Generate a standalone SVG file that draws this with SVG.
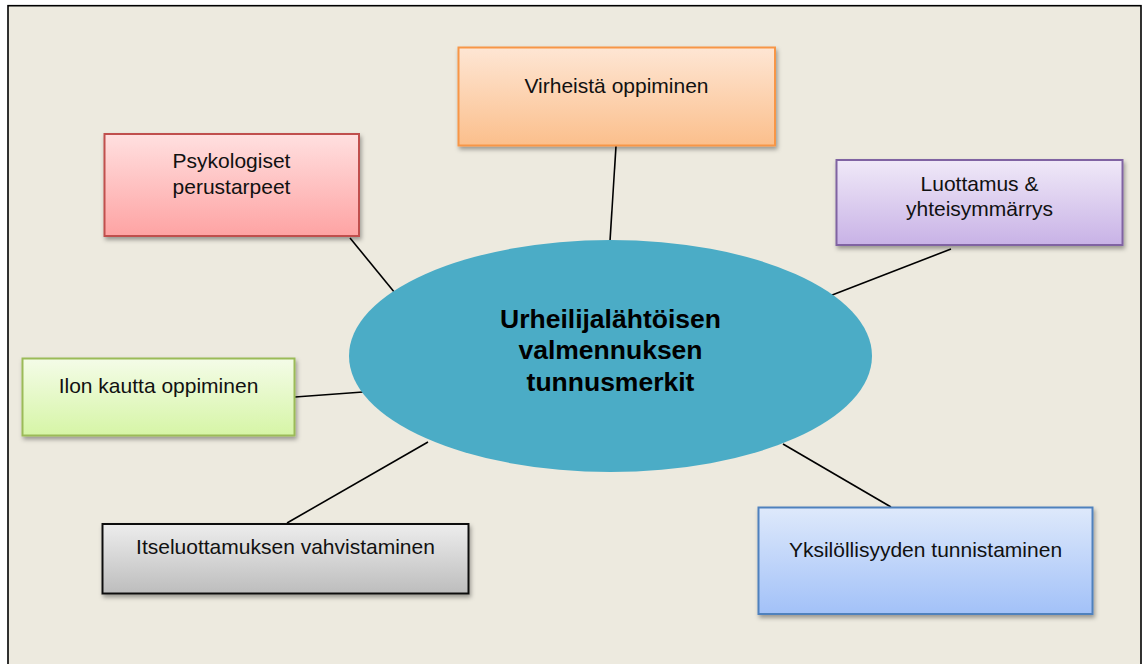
<svg xmlns="http://www.w3.org/2000/svg" width="1143" height="664" viewBox="0 0 1143 664">
  <defs>
    <linearGradient id="gOrange" x1="0" y1="0" x2="0" y2="1">
      <stop offset="0" stop-color="#FEE6D4"/>
      <stop offset="1" stop-color="#FBBF8C"/>
    </linearGradient>
    <linearGradient id="gRed" x1="0" y1="0" x2="0" y2="1">
      <stop offset="0" stop-color="#FFE0E0"/>
      <stop offset="1" stop-color="#FEA3A3"/>
    </linearGradient>
    <linearGradient id="gPurple" x1="0" y1="0" x2="0" y2="1">
      <stop offset="0" stop-color="#F0E9F8"/>
      <stop offset="1" stop-color="#C8B2E6"/>
    </linearGradient>
    <linearGradient id="gGreen" x1="0" y1="0" x2="0" y2="1">
      <stop offset="0" stop-color="#F4FCE8"/>
      <stop offset="1" stop-color="#D6F5A6"/>
    </linearGradient>
    <linearGradient id="gGray" x1="0" y1="0" x2="0" y2="1">
      <stop offset="0" stop-color="#EDEDED"/>
      <stop offset="1" stop-color="#BDBDBD"/>
    </linearGradient>
    <linearGradient id="gBlue" x1="0" y1="0" x2="0" y2="1">
      <stop offset="0" stop-color="#DEE9FB"/>
      <stop offset="1" stop-color="#A2C1F8"/>
    </linearGradient>
    <filter id="shadow" x="-10%" y="-10%" width="130%" height="140%">
      <feDropShadow dx="1.5" dy="3" stdDeviation="2" flood-color="#000" flood-opacity="0.35"/>
    </filter>
  </defs>
  <style>
    .box { stroke-width: 2; filter: url(#shadow); }
    .lbl { font-family: "Liberation Sans", Arial, sans-serif; font-size: 21px; fill: #111; text-anchor: middle; }
    .hub { font-family: "Liberation Sans", Arial, sans-serif; font-size: 26.5px; font-weight: bold; fill: #000; text-anchor: middle; }
    .link { stroke: #000; stroke-width: 1.6; fill: none; }
  </style>

  <!-- page background and frame -->
  <rect x="0" y="0" width="1143" height="664" fill="#FFFFFF"/>
  <rect x="8" y="5.7" width="1133" height="700" fill="#EDEADF" stroke="#000" stroke-width="1.6"/>

  <!-- connectors -->
  <g id="connectors">
    <line class="link" x1="616" y1="146" x2="610" y2="241"/>
    <line class="link" x1="350" y1="238" x2="395" y2="293"/>
    <line class="link" x1="951" y1="249" x2="827" y2="297"/>
    <line class="link" x1="295" y1="397" x2="363" y2="392"/>
    <line class="link" x1="287" y1="523" x2="428" y2="442"/>
    <line class="link" x1="783" y1="444" x2="891" y2="507"/>
  </g>

  <!-- central node -->
  <g id="hub">
    <ellipse cx="610.5" cy="356" rx="261.5" ry="116" fill="#4BACC6"/>
    <text class="hub" x="610.5" y="327.5">Urheilijalähtöisen</text>
    <text class="hub" x="610.5" y="359">valmennuksen</text>
    <text class="hub" x="610.5" y="390.5">tunnusmerkit</text>
  </g>

  <g id="virheista">
    <rect class="box" x="458.5" y="47.5" width="316.5" height="98" fill="url(#gOrange)" stroke="#F79646"/>
    <text class="lbl" x="616.5" y="92.5">Virheistä oppiminen</text>
  </g>

  <g id="psykologiset">
    <rect class="box" x="104.5" y="134" width="254.5" height="102" fill="url(#gRed)" stroke="#C0504D"/>
    <text class="lbl" x="231.5" y="167.5">Psykologiset</text>
    <text class="lbl" x="231.5" y="194">perustarpeet</text>
  </g>

  <g id="luottamus">
    <rect class="box" x="836.5" y="160" width="286" height="85" fill="url(#gPurple)" stroke="#8064A2"/>
    <text class="lbl" x="979.5" y="190.5">Luottamus &amp;</text>
    <text class="lbl" x="979.5" y="215.5">yhteisymmärrys</text>
  </g>

  <g id="ilo">
    <rect class="box" x="22.5" y="358.5" width="272" height="77" fill="url(#gGreen)" stroke="#9BBB59"/>
    <text class="lbl" x="158.5" y="393.3">Ilon kautta oppiminen</text>
  </g>

  <g id="itseluottamus">
    <rect class="box" x="102.5" y="524" width="366" height="69.5" fill="url(#gGray)" stroke="#111"/>
    <text class="lbl" x="285.5" y="554.3">Itseluottamuksen vahvistaminen</text>
  </g>

  <g id="yksilollisyys">
    <rect class="box" x="758.5" y="507.5" width="334" height="106.5" fill="url(#gBlue)" stroke="#4F81BD"/>
    <text class="lbl" x="925.5" y="556.7">Yksilöllisyyden tunnistaminen</text>
  </g>
</svg>
